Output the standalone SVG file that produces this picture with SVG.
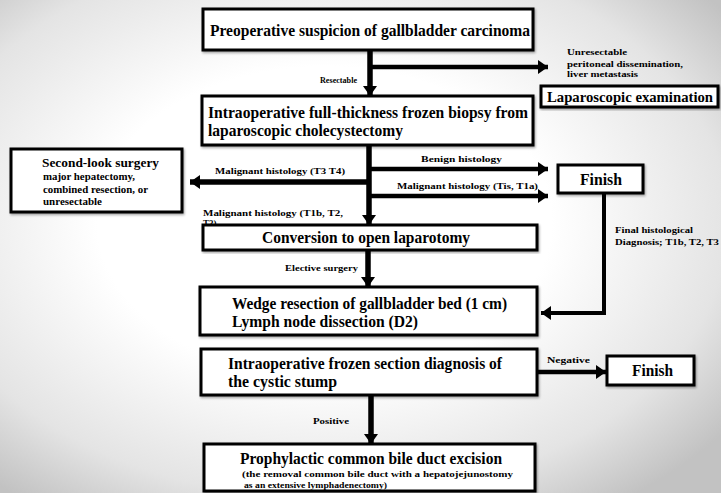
<svg xmlns="http://www.w3.org/2000/svg" width="721" height="493" viewBox="0 0 721 493">
<defs>
<radialGradient id="bg" cx="0.45" cy="0.45" r="0.7">
<stop offset="0.45" stop-color="#ffffff"/>
<stop offset="0.8" stop-color="#e4e4e4"/>
<stop offset="1" stop-color="#c2c2c2"/>
</radialGradient>
<marker id="ah" markerUnits="userSpaceOnUse" markerWidth="10" markerHeight="14" refX="10" refY="7" orient="auto">
<path d="M0,0 L10,7 L0,14 z" fill="#000"/>
</marker>
<filter id="sh" x="-5%" y="-5%" width="110%" height="120%">
<feDropShadow dx="1" dy="1.5" stdDeviation="1" flood-color="#000" flood-opacity="0.35"/>
</filter>
<style>
.box{fill:#fff;stroke:#000;stroke-width:3;filter:url(#sh)}
.t{font-family:"Liberation Serif","DejaVu Serif",serif;font-weight:bold;fill:#000}
.big{font-size:16px}
.sm{font-size:9px}
.c{stroke:#000;fill:none}
.th{stroke-width:5.5}
.tn{stroke-width:4.5}
</style>
</defs>
<rect width="721" height="493" fill="url(#bg)"/>

<g id="connectors">
<line class="c th" x1="370" y1="50" x2="370" y2="96" marker-end="url(#ah)"/>
<line class="c tn" x1="370" y1="67" x2="548" y2="67" marker-end="url(#ah)"/>
<line class="c th" x1="369" y1="145" x2="369" y2="225" marker-end="url(#ah)"/>
<line class="c tn" x1="369" y1="169" x2="548" y2="169" marker-end="url(#ah)"/>
<line class="c th" x1="369" y1="182" x2="190" y2="182" marker-end="url(#ah)"/>
<line class="c tn" x1="369" y1="196" x2="548" y2="196" marker-end="url(#ah)"/>
<path class="c" stroke-width="4" d="M604,193 V313 H541" marker-end="url(#ah)"/>
<line class="c th" x1="368" y1="250" x2="368" y2="287" marker-end="url(#ah)"/>
<line class="c tn" x1="537" y1="372" x2="606" y2="372" marker-end="url(#ah)"/>
<line class="c th" x1="371" y1="395" x2="371" y2="444" marker-end="url(#ah)"/>
<text class="t sm" x="320" y="83" textLength="37" lengthAdjust="spacingAndGlyphs">Resectable</text>
<text class="t sm" x="567" y="55" textLength="60" lengthAdjust="spacingAndGlyphs">Unresectable</text>
<text class="t sm" x="567" y="67" textLength="116" lengthAdjust="spacingAndGlyphs">peritoneal dissemination,</text>
<text class="t sm" x="567" y="77" textLength="71" lengthAdjust="spacingAndGlyphs">liver metastasis</text>
<text class="t sm" x="421" y="162" textLength="81" lengthAdjust="spacingAndGlyphs">Benign histology</text>
<text class="t sm" x="215" y="174" textLength="130" lengthAdjust="spacingAndGlyphs">Malignant histology (T3 T4)</text>
<text class="t sm" x="397" y="189" textLength="141" lengthAdjust="spacingAndGlyphs">Malignant histology (Tis, T1a)</text>
<text class="t sm" x="203" y="216" textLength="140" lengthAdjust="spacingAndGlyphs">Malignant histology (T1b, T2,</text>
<text class="t sm" x="203" y="226">T3)</text>
<text class="t sm" x="285" y="271" textLength="73" lengthAdjust="spacingAndGlyphs">Elective surgery</text>
<text class="t sm" x="615" y="233" textLength="78" lengthAdjust="spacingAndGlyphs">Final histological</text>
<text class="t sm" x="615" y="245" textLength="104" lengthAdjust="spacingAndGlyphs">Diagnosis; T1b, T2, T3</text>
<text class="t sm" x="547" y="363" textLength="43" lengthAdjust="spacingAndGlyphs">Negative</text>
<text class="t sm" x="313" y="424" textLength="36" lengthAdjust="spacingAndGlyphs">Positive</text>
</g>

<g id="n1">
<rect class="box" x="203" y="9" width="330" height="41"/>
<text class="t big" x="210" y="36" textLength="320" lengthAdjust="spacingAndGlyphs">Preoperative suspicion of gallbladder carcinoma</text>
</g>
<g id="n2">
<rect class="box" x="541" y="86" width="177" height="21"/>
<text class="t" font-size="14.5" x="547" y="102" textLength="166" lengthAdjust="spacingAndGlyphs">Laparoscopic examination</text>
</g>
<g id="n3">
<rect class="box" x="202" y="96" width="331" height="49"/>
<text class="t big" x="208" y="118" textLength="320" lengthAdjust="spacingAndGlyphs">Intraoperative full-thickness frozen biopsy from</text>
<text class="t big" x="208" y="136" textLength="195" lengthAdjust="spacingAndGlyphs">laparoscopic cholecystectomy</text>
</g>
<g id="n4">
<rect class="box" x="11" y="149" width="171" height="63"/>
<text class="t" font-size="12.5" x="42" y="167" textLength="117" lengthAdjust="spacingAndGlyphs">Second-look surgery</text>
<text class="t" font-size="10" x="43" y="180" textLength="92" lengthAdjust="spacingAndGlyphs">major hepatectomy,</text>
<text class="t" font-size="10" x="43" y="193" textLength="105" lengthAdjust="spacingAndGlyphs">combined resection, or</text>
<text class="t" font-size="10" x="43" y="205" textLength="59" lengthAdjust="spacingAndGlyphs">unresectable</text>
</g>
<g id="n5">
<rect class="box" x="558" y="165" width="85" height="28"/>
<text class="t big" x="580" y="185" textLength="42" lengthAdjust="spacingAndGlyphs">Finish</text>
</g>
<g id="n6">
<rect class="box" x="203" y="225" width="334" height="25"/>
<text class="t big" x="262" y="243" textLength="208" lengthAdjust="spacingAndGlyphs">Conversion to open laparotomy</text>
</g>
<g id="n7">
<rect class="box" x="200" y="287" width="337" height="48"/>
<text class="t big" x="232" y="309" textLength="275" lengthAdjust="spacingAndGlyphs">Wedge resection of gallbladder bed (1 cm)</text>
<text class="t big" x="232" y="327" textLength="186" lengthAdjust="spacingAndGlyphs">Lymph node dissection (D2)</text>
</g>
<g id="n8">
<rect class="box" x="201" y="349" width="336" height="46"/>
<text class="t big" x="228" y="369" textLength="274" lengthAdjust="spacingAndGlyphs">Intraoperative frozen section diagnosis of</text>
<text class="t big" x="228" y="387" textLength="109" lengthAdjust="spacingAndGlyphs">the cystic stump</text>
</g>
<g id="n9">
<rect class="box" x="607" y="356" width="87" height="29"/>
<text class="t big" x="632" y="376" textLength="41" lengthAdjust="spacingAndGlyphs">Finish</text>
</g>
<g id="n10">
<rect class="box" x="204" y="444" width="331" height="47"/>
<text class="t big" x="240" y="464" textLength="262" lengthAdjust="spacingAndGlyphs">Prophylactic common bile duct excision</text>
<text class="t sm" x="242" y="477" textLength="271" lengthAdjust="spacingAndGlyphs">(the removal common bile duct with a hepatojejunostomy</text>
<text class="t sm" x="244" y="488" textLength="143" lengthAdjust="spacingAndGlyphs">as an extensive lymphadenectomy)</text>
</g>
</svg>
